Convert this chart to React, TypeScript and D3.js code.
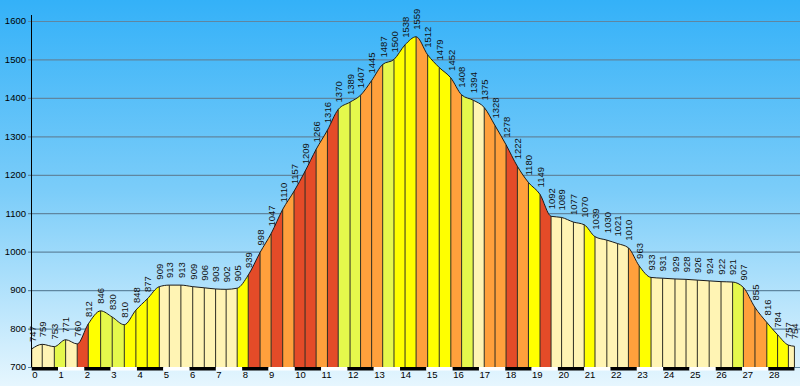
import React, { useEffect, useRef } from "react";
import * as d3 from "d3";

// km along the route of each surveyed point
const distances = [
  0.0, 0.4, 0.86, 1.29, 1.73, 2.15, 2.62, 3.06, 3.52, 3.96, 4.39, 4.85, 5.23, 5.67, 6.12, 6.56, 6.99,
  7.39, 7.81, 8.23, 8.68, 9.1, 9.54, 9.97, 10.39, 10.81, 11.24, 11.65, 12.1, 12.5, 12.92, 13.34, 13.77,
  14.19, 14.61, 15.05, 15.49, 15.93, 16.34, 16.78, 17.2, 17.61, 18.03, 18.46, 18.88, 19.32, 19.74, 20.14,
  20.59, 21.0, 21.41, 21.86, 22.27, 22.68, 23.09, 23.54, 23.98, 24.45, 24.87, 25.3, 25.75, 26.2, 26.64,
  27.05, 27.49, 27.94, 28.35, 28.76, 28.99,
];

// elevation (m) at each point
const elevations = [
  747, 759, 753, 771, 760, 812, 846, 830, 810, 848, 877, 909, 913, 913, 909, 906, 903, 902, 905, 939,
  998, 1047, 1110, 1157, 1209, 1266, 1316, 1370, 1389, 1407, 1445, 1487, 1500, 1538, 1559, 1512, 1479,
  1452, 1408, 1394, 1375, 1328, 1278, 1222, 1180, 1149, 1092, 1089, 1077, 1070, 1039, 1030, 1021, 1010,
  963, 933, 931, 929, 928, 926, 924, 922, 921, 907, 855, 816, 784, 757, 754,
];

// steepness class of every stretch between two points (0 = easy ... 4 = steepest)
const gradeClasses = [
  0, 0, 1, 0, 4, 2, 1, 1, 2, 2, 2, 0, 0, 0, 0, 0, 0, 0, 2, 4, 3, 4, 3, 4, 4, 3, 4, 1, 1, 3, 3, 1, 2, 2,
  3, 2, 2, 3, 1, 0, 3, 3, 4, 3, 2, 4, 0, 0, 0, 2, 0, 0, 0, 3, 2, 0, 0, 0, 0, 0, 0, 0, 1, 3, 3, 2, 2, 0,
];

const kmTicks = d3.range(0, 29);
const elevationTicks = [700, 800, 900, 1000, 1100, 1200, 1300, 1400, 1500, 1600];

function App() {
  const ref = useRef<SVGSVGElement>(null);

  useEffect(() => {
    const width = 800;
    const height = 386;
    const font = "'Liberation Sans', Arial, sans-serif";

    const svg = d3.select(ref.current);
    svg.selectAll("*").remove();

    const x = d3.scaleLinear().domain([0, 29]).range([31.7, 31.7 + 29 * 26.31]);
    const y = d3.scaleLinear().domain([700, 1600]).range([367, 21]);
    const color = d3
      .scaleOrdinal<number, string>()
      .domain([0, 1, 2, 3, 4])
      .range(["#fff4b4", "#e5f84c", "#ffff00", "#ffa03c", "#e44b28"]);

    const defs = svg.append("defs");
    const sky = defs
      .append("linearGradient")
      .attr("id", "sky")
      .attr("x1", 0)
      .attr("y1", 0)
      .attr("x2", 0)
      .attr("y2", 1);
    sky.append("stop").attr("offset", "0%").attr("stop-color", "#34b1f8");
    sky.append("stop").attr("offset", "50%").attr("stop-color", "#7ccdf9");
    sky.append("stop").attr("offset", "100%").attr("stop-color", "#e6f6fe");

    svg.append("rect").attr("width", width).attr("height", height).attr("fill", "url(#sky)");

    // horizontal grid
    svg
      .append("g")
      .selectAll("line")
      .data(elevationTicks)
      .join("line")
      .attr("x1", 28)
      .attr("x2", width)
      .attr("y1", (d) => y(d) + 0.5)
      .attr("y2", (d) => y(d) + 0.5)
      .attr("stroke", "#5f86a0")
      .attr("stroke-width", 1.2);

    const points = distances.map((d, i) => ({ d, e: elevations[i] }));
    type P = { d: number; e: number };
    const area = d3
      .area<P>()
      .x((p) => x(p.d))
      .y0(y(700))
      .y1((p) => y(p.e))
      .curve(d3.curveMonotoneX);
    const line = d3
      .line<P>()
      .x((p) => x(p.d))
      .y((p) => y(p.e))
      .curve(d3.curveMonotoneX);

    defs.append("clipPath").attr("id", "profile").append("path").attr("d", area(points));

    // coloured stretches
    svg
      .append("g")
      .attr("clip-path", "url(#profile)")
      .selectAll("rect")
      .data(gradeClasses)
      .join("rect")
      .attr("x", (c, i) => x(distances[i]))
      .attr("width", (c, i) => x(distances[i + 1]) - x(distances[i]) + 0.5)
      .attr("y", 0)
      .attr("height", y(700))
      .attr("fill", (c) => color(c));

    // separators
    svg
      .append("g")
      .selectAll("line")
      .data(points)
      .join("line")
      .attr("x1", (p) => x(p.d))
      .attr("x2", (p) => x(p.d))
      .attr("y1", (p) => y(p.e))
      .attr("y2", y(700))
      .attr("stroke", "#2e2e22")
      .attr("stroke-width", 1);

    svg
      .append("path")
      .attr("d", line(points))
      .attr("fill", "none")
      .attr("stroke", "#1c1c1c")
      .attr("stroke-width", 1);

    // value labels
    svg
      .append("g")
      .selectAll("text")
      .data(points)
      .join("text")
      .attr("transform", (p) => `translate(${x(p.d) + 0.5},${y(p.e) - 7}) rotate(-90)`)
      .attr("dy", "0.35em")
      .attr("font-family", font)
      .attr("font-size", 9.5)
      .attr("fill", "#111")
      .text((p) => p.e);

    // y axis
    svg
      .append("line")
      .attr("x1", 31.5)
      .attr("x2", 31.5)
      .attr("y1", 15)
      .attr("y2", y(700))
      .attr("stroke", "#000");
    svg
      .append("g")
      .selectAll("text")
      .data(elevationTicks)
      .join("text")
      .attr("x", 26)
      .attr("y", (d) => y(d))
      .attr("dy", "0.35em")
      .attr("text-anchor", "end")
      .attr("font-family", font)
      .attr("font-size", 9.5)
      .attr("fill", "#000")
      .text((d) => d);

    // km bar
    const end = x(distances[distances.length - 1]);
    svg
      .append("g")
      .selectAll("rect")
      .data(kmTicks)
      .join("rect")
      .attr("x", (k) => x(k))
      .attr("width", (k) => Math.min(x(k + 1), end) - x(k))
      .attr("y", y(700))
      .attr("height", 3.5)
      .attr("fill", (k) => (k % 2 === 0 ? "#000" : "#fff"));
    svg
      .append("g")
      .selectAll("text")
      .data(kmTicks)
      .join("text")
      .attr("x", (k) => x(k) + 0.5)
      .attr("y", 378)
      .attr("font-family", font)
      .attr("font-size", 9.5)
      .attr("fill", "#000")
      .text((k) => k);
  }, []);

  return (
    <svg
      ref={ref}
      width={800}
      height={386}
      style={{ position: "absolute", left: 0, top: 0, display: "block" }}
    />
  );
}

export default App;
